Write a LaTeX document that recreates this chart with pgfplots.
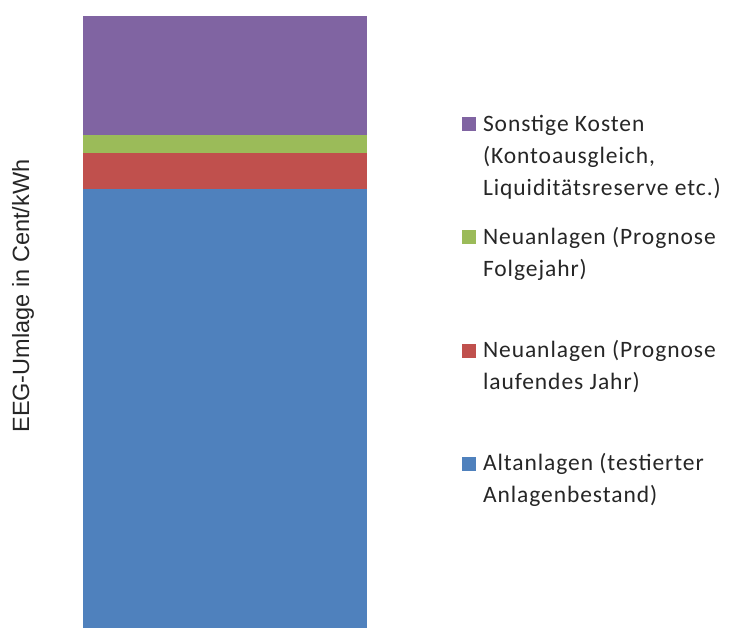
\documentclass[border=0pt]{standalone}
\usepackage{pgfplots}
\pgfplotsset{compat=1.18}
\usepackage{fontspec}
\setmainfont{Carlito}
\newfontfamily\legfont[LetterSpace=4]{Carlito}
\newfontfamily\arialfont{Liberation Sans}
\definecolor{cblue}{HTML}{4F81BD}
\definecolor{cred}{HTML}{C0504D}
\definecolor{cgreen}{HTML}{9BBB59}
\definecolor{cpurple}{HTML}{8064A2}
\newcommand\lentry[3]{\vtop{\hbox{#1}\hbox{#2}\hbox{#3}}}
\begin{document}
\begin{tikzpicture}
\path[use as bounding box] (0,0) rectangle (730pt,628pt);
\begin{axis}[
  at={(83pt,0pt)}, anchor=south west,
  scale only axis, width=284pt, height=612.2pt,
  xmin=-0.5, xmax=0.5, ymin=0, ymax=6.122,
  axis line style={draw=none}, ticks=none,
  ybar stacked, bar width=284pt, bar shift=0pt,
  ylabel={EEG-Umlage in Cent/kWh},
  every axis y label/.style={at={(rel axis cs:0,0.542)}, xshift=-60pt, rotate=90, anchor=center,
    font=\arialfont\fontsize{23.5}{28}\selectfont, text=black!85},
  legend style={at={(rel axis cs:1.3345,0.838)}, anchor=north west, draw=none, fill=none,
    inner sep=0pt, outer sep=0pt, font=\legfont\fontsize{23.5}{32}\selectfont, text=black!85,
    nodes={inner sep=0pt, anchor=base west}, column sep=7pt, row sep=0pt},
  legend cell align=left,
  reverse legend,
  legend image code/.code={\fill[#1,draw=none] (0pt,0pt) rectangle (14pt,14pt);
    \path[draw=none,fill=none] (0pt,-96pt) rectangle (0.1pt,0pt);},
]
\addplot[fill=cblue, draw=none] coordinates {(0,4.393)};
\addlegendentry{\lentry{Altanlagen (testierter}{Anlagenbestand)}{}}
\addplot[fill=cred, draw=none] coordinates {(0,0.359)};
\addlegendentry{\lentry{Neuanlagen (Prognose}{laufendes Jahr)}{}}
\addplot[fill=cgreen, draw=none] coordinates {(0,0.182)};
\addlegendentry{\lentry{Neuanlagen (Prognose}{Folgejahr)}{}}
\addplot[fill=cpurple, draw=none] coordinates {(0,1.188)};
\addlegendentry{\lentry{Sonstige Kosten}{(Kontoausgleich,}{Liquiditätsreserve etc.)}}
\end{axis}
\end{tikzpicture}
\end{document}
